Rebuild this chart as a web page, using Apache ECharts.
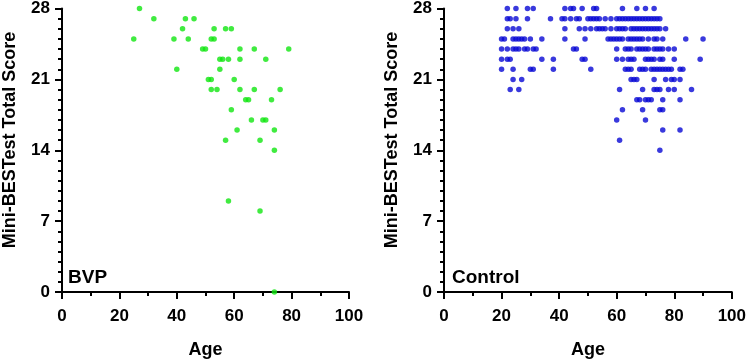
<!DOCTYPE html>
<html>
<head>
<meta charset="utf-8">
<script src="https://cdn.jsdelivr.net/npm/echarts@6/dist/echarts.min.js"></script>
<style>
  html, body { margin: 0; padding: 0; background: #fff; }
  #chart { width: 749px; height: 364px; }
</style>
</head>
<body>
<div id="chart"></div>
<script>
// BVP group (age, score pairs)
const bvpAge = [27, 32, 43, 46, 42, 53, 57, 59, 25, 39, 44, 52, 53, 49, 50, 62, 67, 79,
  55, 56, 58, 62, 71, 40, 55, 51, 52, 60, 52, 54, 62, 67, 76, 64, 65, 73, 59, 66, 70, 71,
  61, 74, 57, 69, 74, 58, 69, 74]
const bvpScore = [28, 27, 27, 27, 26, 26, 26, 26, 25, 25, 25, 25, 25, 24, 24, 24, 24, 24,
  23, 23, 23, 23, 23, 22, 22, 21, 21, 21, 20, 20, 20, 20, 20, 19, 19, 19, 18, 17, 17, 17,
  16, 16, 15, 15, 14, 9, 8, 0]

// Control group: ages at each total score
const ctrlScores = [28, 27, 26, 25, 24, 23, 22, 21, 20, 19, 18, 17, 16, 15, 14]
const ctrl28 = [22, 25, 29, 31, 42, 44, 45, 48, 52, 53, 62, 67, 70, 73]
const ctrl27 = [22, 23, 25, 29, 37, 41, 42, 44, 46, 47, 50, 51, 52, 53, 54, 56, 58,
  60, 61, 62, 63, 64, 65, 66, 67, 68, 69, 70, 71, 72, 73, 74, 75]
const ctrl26 = [22, 24, 26, 42, 47, 49, 51, 53, 54, 55, 56, 58, 60, 61, 62, 63,
  65, 66, 67, 68, 69, 70, 71, 72, 73, 74, 75, 77]
const ctrl25 = [20, 21, 24, 25, 26, 27, 28, 30, 34, 42, 49, 57, 58, 59, 60, 61, 62,
  64, 65, 66, 67, 68, 69, 71, 73, 74, 76, 84, 90]
const ctrl24 = [20, 22, 24, 25, 26, 28, 29, 31, 32, 45, 46, 60, 63, 64, 65, 67, 68,
  69, 70, 71, 73, 74, 75, 76, 78, 80]
const ctrl23 = [20, 22, 23, 34, 38, 48, 49, 60, 62, 64, 65, 66, 70, 71, 72, 73, 75, 76, 80, 89]
const ctrl22 = [20, 24, 30, 31, 38, 51, 63, 64, 65, 68, 69, 70, 72, 73, 74, 75, 76, 77,
  78, 79, 82, 83]
const ctrl21 = [24, 27, 65, 66, 67, 73, 77, 79, 80, 82]
const ctrl20 = [23, 26, 61, 69, 73, 74, 75, 78, 80, 86]
const ctrl19 = [67, 68, 70, 71, 72, 76, 82]
const ctrl18 = [62, 69, 75, 76]
const ctrl17 = [60, 70]
const ctrl16 = [76, 82]
const ctrl15 = [61]
const ctrl14 = [75]
const ctrlAgeRows = [ctrl28, ctrl27, ctrl26, ctrl25, ctrl24, ctrl23, ctrl22, ctrl21,
  ctrl20, ctrl19, ctrl18, ctrl17, ctrl16, ctrl15, ctrl14]

const bvpData = bvpAge.map((a, i) => [a, bvpScore[i]])
const ctrlData = []
ctrlAgeRows.forEach((row, i) => {
  row.forEach(a => ctrlData.push([a, ctrlScores[i]]))
})

const font = 'Liberation Sans, Arial, sans-serif'
const yTitle = 'Mini-BESTest Total Score'

function xAxis(idx) {
  return {
    gridIndex: idx,
    type: 'value',
    min: 0,
    max: 100,
    interval: 20,
    name: 'Age',
    nameLocation: 'middle',
    nameGap: 49,
    nameTextStyle: { fontSize: 18, fontWeight: 'bold', color: '#000', fontFamily: font },
    axisLine: { show: true, onZero: false, lineStyle: { color: '#000', width: 2 } },
    axisTick: { show: true, length: 7, lineStyle: { color: '#000', width: 2 } },
    minorTick: { show: true, splitNumber: 2, length: 4, lineStyle: { color: '#000', width: 2 } },
    axisLabel: { fontSize: 17, fontWeight: 'bold', color: '#000', margin: 16, fontFamily: font },
    splitLine: { show: false }
  }
}

function yAxis(idx) {
  return {
    gridIndex: idx,
    type: 'value',
    min: 0,
    max: 28,
    interval: 7,
    axisLine: { show: true, onZero: false, lineStyle: { color: '#000', width: 2 } },
    axisTick: { show: true, length: 7, lineStyle: { color: '#000', width: 2 } },
    minorTick: { show: true, splitNumber: 7, length: 4, lineStyle: { color: '#000', width: 2 } },
    axisLabel: { fontSize: 17, fontWeight: 'bold', color: '#000', margin: 12, fontFamily: font },
    splitLine: { show: false }
  }
}

// rotated y-axis title, placed by hand
function yName(x) {
  return {
    type: 'text',
    x: x,
    y: 140,
    rotation: Math.PI / 2,
    style: {
      text: yTitle, fontSize: 18, fontWeight: 'bold', fill: '#000', fontFamily: font,
      align: 'center', verticalAlign: 'middle'
    }
  }
}

const chart = echarts.init(document.getElementById('chart'), null, { renderer: 'canvas' })
chart.setOption({
  animation: false,
  backgroundColor: '#fff',
  grid: [
    { left: 62, top: 8.5, width: 287, height: 288 },
    { left: 444, top: 8.5, width: 289, height: 288 }
  ],
  xAxis: [xAxis(0), xAxis(1)],
  yAxis: [yAxis(0), yAxis(1)],
  graphic: [
    yName(10),
    yName(392),
    { type: 'text', left: 68, top: 268, style: { text: 'BVP', fontSize: 19, fontWeight: 'bold', fill: '#000', fontFamily: font } },
    { type: 'text', left: 452, top: 268, style: { text: 'Control', fontSize: 19, fontWeight: 'bold', fill: '#000', fontFamily: font } }
  ],
  series: [
    {
      type: 'scatter',
      xAxisIndex: 0,
      yAxisIndex: 0,
      symbolSize: 5.5,
      clip: false,
      itemStyle: { color: '#10e610' },
      data: bvpData
    },
    {
      type: 'scatter',
      xAxisIndex: 1,
      yAxisIndex: 1,
      symbolSize: 5.5,
      clip: false,
      itemStyle: { color: '#0808d4' },
      data: ctrlData
    }
  ]
})
</script>
</body>
</html>
